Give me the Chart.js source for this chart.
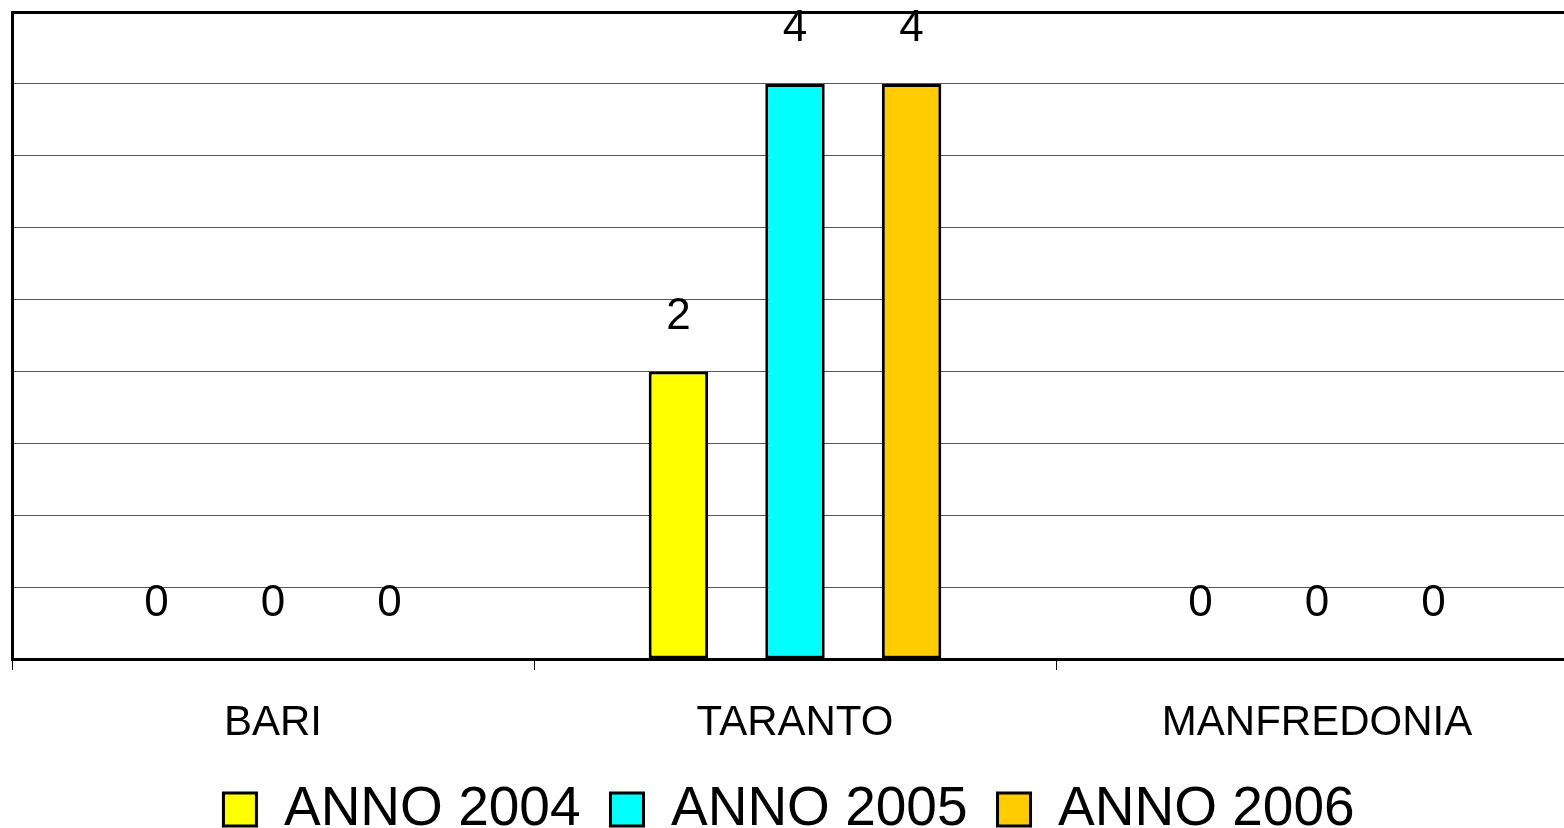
<!DOCTYPE html>
<html>
<head>
<meta charset="utf-8">
<script src="https://cdn.jsdelivr.net/npm/chart.js@4/dist/chart.umd.min.js"></script>
<style>
  html, body { margin: 0; padding: 0; background: #fff; overflow: hidden; }
  #wrap { width: 1580px; height: 828px; }
</style>
</head>
<body>
<div id="wrap"><canvas id="chart"></canvas></div>
<script>
const categories = ['BARI', 'TARANTO', 'MANFREDONIA'];
const anno2004 = [0, 2, 0];
const anno2005 = [0, 4, 0];
const anno2006 = [0, 4, 0];
const yTicks = { min: 0, max: 4.5, step: 0.5 };

const fontFamily = '"Liberation Sans", Arial, sans-serif';

// numbers above each bar, like the Excel data labels
const valueLabels = {
    id: 'valueLabels',
    afterDatasetsDraw(chart) {
        const ctx = chart.ctx;
        ctx.save();
        ctx.font = '44px ' + fontFamily;
        ctx.fillStyle = '#000';
        ctx.textAlign = 'center';
        ctx.textBaseline = 'middle';
        chart.data.datasets.forEach(function (ds, i) {
            chart.getDatasetMeta(i).data.forEach(function (bar, j) {
                ctx.fillText(String(ds.data[j]), bar.x, bar.y - 55);
            });
        });
        ctx.restore();
    }
};

document.addEventListener('DOMContentLoaded', function () {
    const ctx = document.getElementById('chart').getContext('2d');
    new Chart(ctx, {
        type: 'bar',
        data: {
            labels: categories,
            datasets: [
                { label: 'ANNO 2004', data: anno2004, backgroundColor: '#FFFF00' },
                { label: 'ANNO 2005', data: anno2005, backgroundColor: '#00FFFF' },
                { label: 'ANNO 2006', data: anno2006, backgroundColor: '#FFCC00' }
            ]
        },
        options: {
            responsive: true,
            maintainAspectRatio: false,
            animation: false,
            datasets: {
                bar: {
                    borderColor: '#000',
                    borderWidth: 3,
                    borderSkipped: false,
                    categoryPercentage: 0.67,
                    barPercentage: 0.51
                }
            },
            layout: { padding: { top: 12, left: 0, right: 2, bottom: -19 } },
            plugins: {
                legend: {
                    position: 'bottom',
                    labels: {
                        color: '#000',
                        font: { family: fontFamily, size: 55 },
                        boxWidth: 33,
                        boxHeight: 33,
                        padding: 30,
                        generateLabels: function (chart) {
                            return chart.data.datasets.map(function (ds, i) {
                                return {
                                    text: ds.label,
                                    fillStyle: ds.backgroundColor,
                                    strokeStyle: '#000',
                                    lineWidth: 3,
                                    datasetIndex: i,
                                    hidden: false
                                };
                            });
                        }
                    }
                },
                tooltip: { enabled: false }
            },
            scales: {
                x: {
                    afterFit: function (scale) { scale.height = 93; },
                    grid: {
                        drawOnChartArea: false,
                        drawTicks: true,
                        tickLength: 11,
                        color: '#000',
                        lineWidth: 1
                    },
                    border: { color: '#000', width: 3 },
                    ticks: {
                        color: '#000',
                        font: { family: fontFamily, size: 42 },
                        padding: 28
                    }
                },
                y: {
                    min: yTicks.min,
                    max: yTicks.max,
                    afterFit: function (scale) { scale.width = 12; },
                    ticks: { display: false, stepSize: yTicks.step },
                    grid: {
                        drawTicks: false,
                        color: function (c) { return c.tick && c.tick.value === yTicks.max ? '#000' : '#555'; },
                        lineWidth: function (c) { return c.tick && c.tick.value === yTicks.max ? 3 : 1; }
                    },
                    border: { color: '#000', width: 3 }
                }
            }
        },
        plugins: [valueLabels]
    });
});
</script>
</body>
</html>
